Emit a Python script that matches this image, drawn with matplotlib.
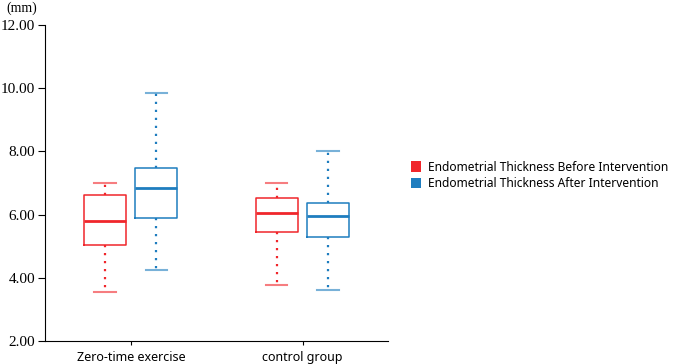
import matplotlib
matplotlib.use('Agg')
import matplotlib.pyplot as plt
from matplotlib.patches import Patch

# box statistics (mm)
groups = ['Zero-time exercise', 'control group']
series = ['Endometrial Thickness Before Intervention', 'Endometrial Thickness After Intervention']

before_low = [3.55, 3.77]
before_q1 = [5.04, 5.45]
before_med = [5.80, 6.05]
before_q3 = [6.62, 6.53]
before_high = [7.00, 7.00]

after_low = [4.25, 3.61]
after_q1 = [5.89, 5.29]
after_med = [6.84, 5.96]
after_q3 = [7.47, 6.37]
after_high = [9.85, 8.01]

y_ticks = [2, 4, 6, 8, 10, 12]

red = '#f0262b'
blue = '#1e7dbf'


def make_stats(low, q1, med, q3, high):
    out = []
    for i in range(len(low)):
        out.append({'whislo': low[i], 'q1': q1[i], 'med': med[i], 'q3': q3[i],
                    'whishi': high[i], 'fliers': []})
    return out


def draw(ax, stats, pos, color):
    ax.bxp(stats, positions=pos, widths=0.245, showfliers=False,
           boxprops=dict(color=color, linewidth=1.1),
           medianprops=dict(color=color, linewidth=2.0),
           whiskerprops=dict(color=color, linewidth=1.6, linestyle=(0, (1, 2.6)),
                             dash_capstyle='butt'),
           capprops=dict(color=color, linewidth=1.5, alpha=0.6),
           capwidths=0.125)


fig = plt.figure(figsize=(6.76, 3.64), dpi=100)
ax = fig.add_axes([0.0666, 0.0632, 0.508, 0.868])

x = list(range(len(groups)))
draw(ax, make_stats(before_low, before_q1, before_med, before_q3, before_high),
     [i - 0.151 for i in x], red)
draw(ax, make_stats(after_low, after_q1, after_med, after_q3, after_high),
     [i + 0.149 for i in x], blue)

ax.set_xlim(-0.5, 1.5)
ax.set_ylim(2, 12)
ax.set_xticks(x)
ax.set_xticklabels(groups, fontsize=9, family='Noto Sans')
ax.set_yticks(y_ticks)
ax.set_yticklabels(['%.2f' % v for v in y_ticks], fontsize=11, family='Liberation Serif')
ax.tick_params(axis='y', length=5, width=0.8, pad=2)
ax.tick_params(axis='x', length=3, width=0.8, pad=4)
ax.spines['top'].set_visible(False)
ax.spines['right'].set_visible(False)
ax.spines['left'].set_linewidth(0.8)
ax.spines['bottom'].set_linewidth(0.8)

fig.text(0.010, 0.976, '(mm)', fontsize=10, family='Liberation Serif', va='center')

handles = [Patch(facecolor=red, edgecolor='none'), Patch(facecolor=blue, edgecolor='none')]
fig.legend(handles, series, loc='center left', bbox_to_anchor=(0.608, 0.518),
           frameon=False, prop={'family': 'Noto Sans', 'size': 8.6},
           handlelength=0.85, handleheight=1.0, handletextpad=0.6, labelspacing=0.3,
           borderaxespad=0, borderpad=0)

fig.savefig('out.png', dpi=100)
